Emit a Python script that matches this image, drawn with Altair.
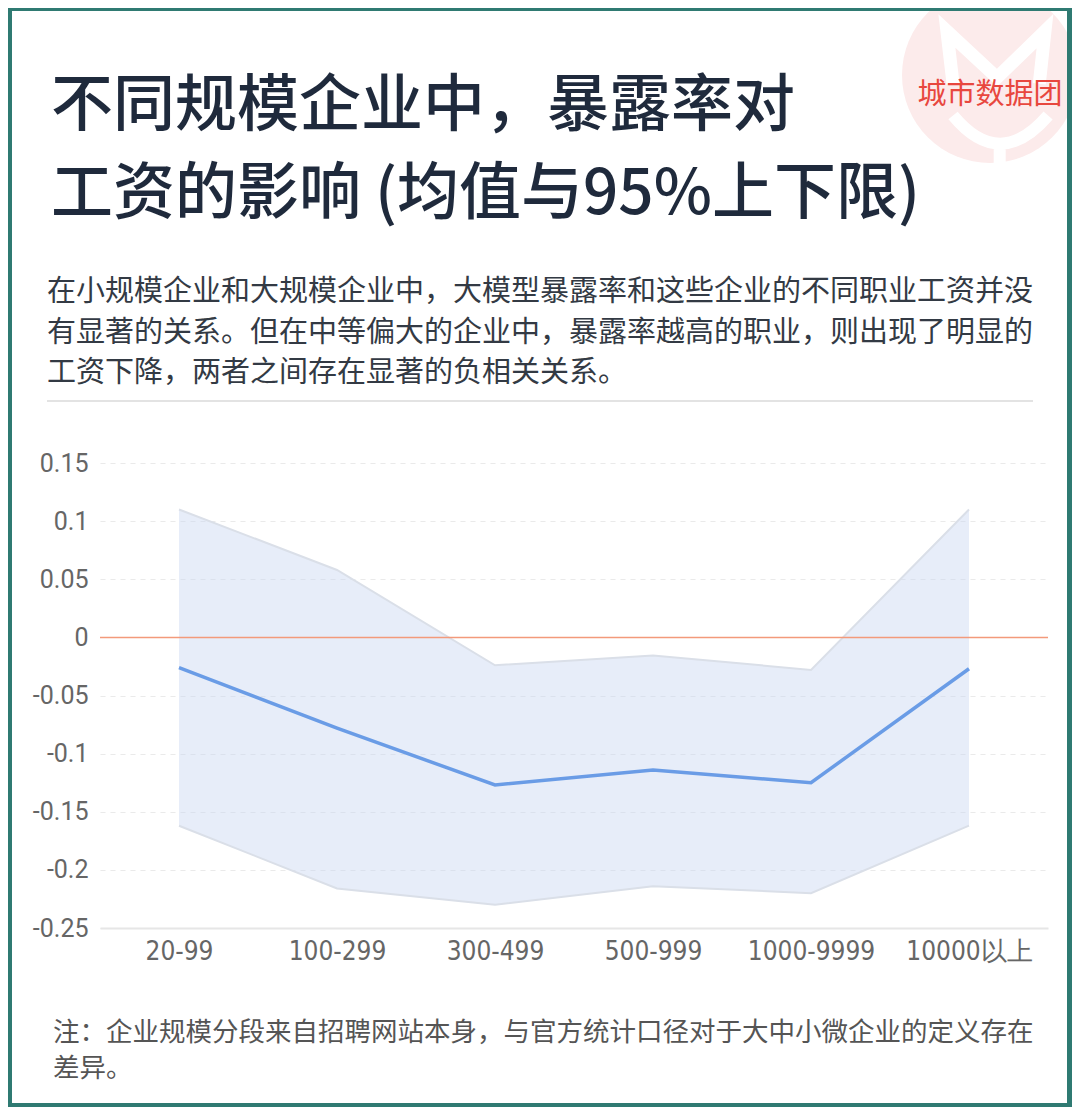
import altair as alt
import pandas as pd

# ---------------- data ----------------
sizes = ["20-99", "100-299", "300-499", "500-999", "1000-9999", "10000以上"]
mean_vals = [-0.026, -0.078, -0.127, -0.114, -0.125, -0.027]
upper_vals = [0.110, 0.058, -0.024, -0.0155, -0.028, 0.110]
lower_vals = [-0.162, -0.216, -0.230, -0.214, -0.220, -0.162]
y_ticks = [0.15, 0.1, 0.05, 0, -0.05, -0.1, -0.15, -0.2, -0.25]

title_lines = ["不同规模企业中，暴露率对", "工资的影响 (均值与95%上下限)"]
subtitle_lines = [
    "在小规模企业和大规模企业中，大模型暴露率和这些企业的不同职业工资并没",
    "有显著的关系。但在中等偏大的企业中，暴露率越高的职业，则出现了明显的",
    "工资下降，两者之间存在显著的负相关关系。",
]
note_lines = [
    "注：企业规模分段来自招聘网站本身，与官方统计口径对于大中小微企业的定义存在",
    "差异。",
]
logo_text = "城市数据团"

df = pd.DataFrame({"size": sizes, "mean": mean_vals,
                   "upper": upper_vals, "lower": lower_vals})
one = pd.DataFrame({"k": [0]})

# ---------------- layout ----------------
W, H = 948, 465
PAD = {"left": 92, "top": 455, "right": 24, "bottom": 179}
OX, OY = 100, 463  # page position of plot origin


def px(X):
    return X - OX


def py(Y):
    return Y - OY


TEAL = "#2F7A72"
CJK = "Noto Sans CJK SC"

x_enc = alt.X(
    "size:N", sort=sizes,
    scale=alt.Scale(type="point", padding=0.5),
    axis=alt.Axis(title=None, labelAngle=0, ticks=False, grid=False,
                  domain=True, domainColor="#E6E6E6", domainWidth=2,
                  labelFont="Liberation Sans Narrow, DejaVu Sans Condensed, sans-serif",
                  labelFontSize=26, labelColor="#666666", labelPadding=10),
)
y_scale = alt.Scale(domain=[-0.25, 0.15], nice=False, zero=False)
y_axis = alt.Axis(values=y_ticks, title=None, labelExpr="toString(datum.value)",
                  ticks=False, domain=False, grid=True, gridColor="#EAEAEA",
                  gridDash=[5, 5], gridWidth=1.2,
                  labelFont="Roboto", labelFontSize=25, labelColor="#666666",
                  labelPadding=12)

base = alt.Chart(df)

area = base.mark_area(color="#C9D8F2", opacity=0.45).encode(
    x=x_enc,
    y=alt.Y("lower:Q", scale=y_scale, axis=y_axis),
    y2="upper:Q",
)
upper_line = base.mark_line(color="#DADFE8", strokeWidth=2).encode(
    x=x_enc, y=alt.Y("upper:Q", scale=y_scale, axis=y_axis))
lower_line = base.mark_line(color="#DADFE8", strokeWidth=2).encode(
    x=x_enc, y=alt.Y("lower:Q", scale=y_scale, axis=y_axis))
zero_rule = alt.Chart(one).mark_rule(color="#F39A7B", strokeWidth=1.5).encode(
    y=alt.datum(0, scale=y_scale))
mean_line = base.mark_line(color="#6A9CE6", strokeWidth=3.5).encode(
    x=x_enc, y=alt.Y("mean:Q", scale=y_scale, axis=y_axis))

# ---------------- decorations ----------------
deco = alt.Chart(one)
LOGO_SIZE = 176 ** 2
logo_circle = deco.mark_point(shape="circle", filled=True, color="#FCEBEB",
                              opacity=1, size=LOGO_SIZE).encode(
    x=alt.value(px(990)), y=alt.value(py(75)))
logo_m = deco.mark_point(
    shape="M -0.42 0.1 L -0.49 -0.5 L 0.08 0.03 L 0.625 -0.5 L 0.56 0.1",
    filled=False, color="white", opacity=1, strokeWidth=13, size=LOGO_SIZE,
    strokeJoin="miter").encode(x=alt.value(px(990)), y=alt.value(py(75)))
logo_u = deco.mark_point(
    shape="M -0.42 0.46 Q 0.11 1.1 0.66 0.46 M 0.11 0.74 L 0.11 1.0",
    filled=False, color="white", opacity=1, strokeWidth=12, size=LOGO_SIZE
).encode(x=alt.value(px(990)), y=alt.value(py(75)))

frame_top = deco.mark_rect(color=TEAL).encode(
    x=alt.value(-PAD["left"]), x2=alt.value(W + PAD["right"]),
    y=alt.value(-PAD["top"]), y2=alt.value(py(11)))
frame_bottom = deco.mark_rect(color=TEAL).encode(
    x=alt.value(-PAD["left"]), x2=alt.value(W + PAD["right"]),
    y=alt.value(py(1103)), y2=alt.value(H + PAD["bottom"]))
frame_left = deco.mark_rect(color=TEAL).encode(
    x=alt.value(-PAD["left"]), x2=alt.value(px(12)),
    y=alt.value(-PAD["top"]), y2=alt.value(H + PAD["bottom"]))
frame_right = deco.mark_rect(color=TEAL).encode(
    x=alt.value(px(1067)), x2=alt.value(W + PAD["right"]),
    y=alt.value(-PAD["top"]), y2=alt.value(H + PAD["bottom"]))

logo_label = deco.mark_text(font=CJK, fontSize=29, color="#E8473E",
                            align="center", baseline="middle").encode(
    x=alt.value(px(990)), y=alt.value(py(95)), text=alt.value(logo_text))

title = deco.mark_text(font=CJK, fontSize=62, fontWeight=500, color="#1F2A3C",
                       align="left", baseline="alphabetic", lineHeight=88).encode(
    x=alt.value(px(51)), y=alt.value(py(126)), text=alt.value(title_lines))

subtitle = deco.mark_text(font=CJK, fontSize=29, color="#333A44",
                          align="left", baseline="alphabetic", lineHeight=40.5).encode(
    x=alt.value(px(47)), y=alt.value(py(301)), text=alt.value(subtitle_lines))

separator = deco.mark_rule(color="#E3E3E3", strokeWidth=2).encode(
    x=alt.value(px(47)), x2=alt.value(px(1033)), y=alt.value(py(401)))

note = deco.mark_text(font=CJK, fontSize=26.5, color="#555555",
                      align="left", baseline="alphabetic", lineHeight=36).encode(
    x=alt.value(px(53)), y=alt.value(py(1041)), text=alt.value(note_lines))

chart = alt.layer(
    area, upper_line, lower_line, zero_rule, mean_line,
    logo_circle, logo_m, logo_u,
    frame_top, frame_bottom, frame_left, frame_right,
    logo_label, title, subtitle, separator, note,
).properties(
    width=W, height=H, padding=PAD,
    autosize=alt.AutoSizeParams(type="none"),
).configure(
    background="white", font=CJK,
).configure_view(stroke=None)

chart.save("out.html", embed_options={"renderer": "svg", "actions": False})
